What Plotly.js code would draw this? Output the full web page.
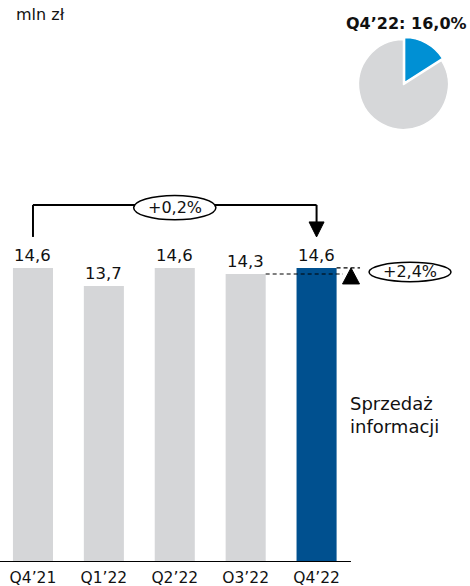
<!DOCTYPE html>
<html>
<head>
<meta charset="utf-8">
<script src="https://cdn.plot.ly/plotly-3.0.1.min.js"></script>
<style>html,body{margin:0;padding:0;background:#fff;}#chart{width:470px;height:586px;}</style>
</head>
<body>
<div id="chart"></div>
<script>
// ---- data ----
var categories = ["Q4’21", "Q1’22", "Q2’22", "O3’22", "Q4’22"];
var values = [14.6, 13.7, 14.6, 14.3, 14.6];
var pieLabels = ["Sprzedaż informacji", "Pozostałe"];
var pieValues = [16.0, 84.0];
var yoyLabel = "+0,2%";
var qoqLabel = "+2,4%";
var pieTitle = "Q4’22: 16,0%";
var unitLabel = "mln zł";
var segmentLabel = "Sprzedaż<br>informacji";

function fmt(v) { return v.toFixed(1).replace('.', ','); }

var FONT = "DejaVu Sans, Verdana, sans-serif";
var GRAY = "#d5d6d8";
var DARK = "#00508f";
var TXT = "#111111";
var n = categories.length;
var last = n - 1;
var prev = n - 2;

var barTrace = {
  type: "bar",
  x: categories,
  y: values,
  width: 0.565,
  marker: {color: values.map(function(v, i){ return i === last ? DARK : GRAY; })},
  hoverinfo: "skip",
  showlegend: false
};

var pieTrace = {
  type: "pie",
  labels: pieLabels,
  values: pieValues,
  sort: false,
  direction: "clockwise",
  rotation: 0,
  pull: [0.05, 0],
  marker: {colors: ["#0090d4", "#d6d7d9"], line: {color: "#ffffff", width: 1.5}},
  textinfo: "none",
  hoverinfo: "skip",
  showlegend: false,
  domain: {x: [0.758, 0.959], y: [0.7654, 0.9338]}
};

var annotations = [];
values.forEach(function(v, i) {
  annotations.push({
    x: categories[i], y: v, xref: "x", yref: "y",
    text: fmt(v), showarrow: false, yanchor: "bottom", yshift: 1,
    font: {family: FONT, size: 16.5, color: TXT}
  });
});

var bracketTop = 17.73;
var bracketLeftBottom = 16.14;
var arrowTip = 16.14;
var qoqX = 5.318;

annotations.push({x: 2, y: 17.6, xref: "x", yref: "y", text: yoyLabel, showarrow: false,
  font: {family: FONT, size: 16, color: TXT}});
annotations.push({x: qoqX, y: 14.4, xref: "x", yref: "y", text: qoqLabel, showarrow: false,
  font: {family: FONT, size: 16, color: TXT}});
annotations.push({x: 348/470, y: (562-415)/562, xref: "paper", yref: "paper", xanchor: "left", yanchor: "middle", align: "left",
  text: segmentLabel, showarrow: false, font: {family: FONT, size: 18, color: TXT}});
annotations.push({x: 14/470, y: (562-15)/562, xref: "paper", yref: "paper", xanchor: "left", yanchor: "middle",
  text: unitLabel, showarrow: false, font: {family: FONT, size: 16, color: TXT}});
annotations.push({x: 406/470, y: (562-23)/562, xref: "paper", yref: "paper", xanchor: "center", yanchor: "middle",
  text: "<b>" + pieTitle + "</b>", showarrow: false, font: {family: FONT, size: 16, color: TXT}});

var lineBlack = {color: "#000000", width: 2};
var shapes = [
  // baseline axis
  {type: "line", xref: "x", yref: "y", x0: -0.465, x1: 4.485, y0: 0, y1: 0, line: {color: "#000", width: 2}},
  // bracket
  {type: "line", xref: "x", yref: "y", x0: 0, x1: 0, y0: bracketLeftBottom, y1: bracketTop, line: lineBlack},
  {type: "line", xref: "x", yref: "y", x0: 0, x1: last, y0: bracketTop, y1: bracketTop, line: lineBlack},
  {type: "line", xref: "x", yref: "y", x0: last, x1: last, y0: bracketTop, y1: 16.88, line: lineBlack},
  {type: "path", xref: "x", yref: "y", xsizemode: "pixel", ysizemode: "pixel", xanchor: last, yanchor: arrowTip,
    path: "M -7.5 15 L 7.5 15 L 0 0 Z", fillcolor: "#000", line: {color: "#000", width: 1}},
  {type: "circle", xref: "x", yref: "y", x0: 1.42, x1: 2.58, y0: 16.99, y1: 18.2,
    fillcolor: "#fff", line: {color: "#000", width: 1.5}},
  // dashed comparison lines
  {type: "line", xref: "x", yref: "y", x0: prev + 0.282, x1: 4.373, y0: values[prev], y1: values[prev],
    line: {color: "#000", width: 1.2, dash: "4px,3px"}},
  {type: "line", xref: "x", yref: "y", x0: last + 0.282, x1: 4.613, y0: values[last], y1: values[last],
    line: {color: "#000", width: 1.2, dash: "4px,3px"}},
  {type: "path", xref: "x", yref: "y", xsizemode: "pixel", ysizemode: "pixel", xanchor: 4.486, yanchor: values[last],
    path: "M -8.5 -16 L 8.5 -16 L 0 0 Z", fillcolor: "#000", line: {color: "#000", width: 1}},
  {type: "circle", xref: "x", yref: "y", x0: qoqX - 0.578, x1: qoqX + 0.578, y0: 13.92, y1: 14.88,
    fillcolor: "#fff", line: {color: "#000", width: 1.5}}
];

var layout = {
  width: 470, height: 586,
  margin: {l: 0, r: 0, t: 0, b: 24, pad: 0},
  paper_bgcolor: "#fff", plot_bgcolor: "#fff",
  font: {family: FONT, color: TXT},
  xaxis: {type: "category", range: [-0.465, 6.164], showgrid: false, zeroline: false, showline: false,
    ticks: "", ticklabelstandoff: 4, tickfont: {family: FONT, size: 15.5, color: TXT}, fixedrange: true},
  yaxis: {range: [0, 562/20.14], visible: false, showgrid: false, zeroline: false, fixedrange: true},
  showlegend: false,
  shapes: shapes,
  annotations: annotations
};

Plotly.newPlot("chart", [barTrace, pieTrace], layout, {displayModeBar: false, staticPlot: true});
</script>
</body>
</html>
